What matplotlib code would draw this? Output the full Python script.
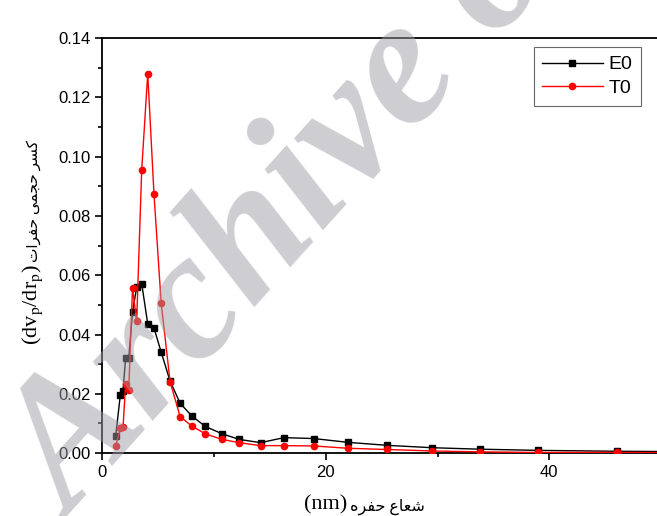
import numpy as np
import matplotlib
matplotlib.use("Agg")
import matplotlib.pyplot as plt
from matplotlib.ticker import MultipleLocator

# pore radius (nm) and volume fraction values
radius = [1.18, 1.6, 1.84, 2.07, 2.35, 2.69, 3.06, 3.51, 4.05, 4.61, 5.25, 6.05, 6.95,
          8.0, 9.2, 10.7, 12.25, 14.15, 16.25, 18.9, 22.0, 25.5, 29.5, 33.8, 39.0, 46.1, 55.0]
e0 = [0.0057, 0.0197, 0.0211, 0.032, 0.032, 0.0477, 0.0559, 0.0572, 0.0436, 0.0422, 0.0341,
      0.0243, 0.0168, 0.0125, 0.009, 0.0065, 0.0046, 0.0035, 0.0052, 0.0049, 0.0036, 0.0026,
      0.0018, 0.0013, 0.0009, 0.0006, 0.0004]
t0 = [0.0024, 0.0083, 0.0087, 0.0233, 0.0214, 0.0556, 0.0445, 0.0955, 0.128, 0.0874, 0.0508,
      0.0241, 0.0123, 0.0091, 0.0065, 0.0046, 0.0035, 0.0025, 0.0025, 0.0024, 0.0016, 0.0012,
      0.0007, 0.0004, 0.0002, 0.0002, 0.0001]
series = ["E0", "T0"]

# Persian labels, shaped by hand with presentation forms (visual order)
w_kasr = "\uFEAE\uFEB4\uFB90"
w_hajmi = "\uFEF0\uFEE4\uFEA0\uFEA3"
w_hofarat = "\uFE95\uFE8D\uFEAE\uFED4\uFEA3"
w_shoa = "\uFEC9\uFE8E\uFECC\uFEB7"
w_hofre = "\uFEE9\uFEAE\uFED4\uFEA3"

fam = ["Liberation Serif", "DejaVu Sans"]
plt.rcParams["font.family"] = ["Liberation Sans", "DejaVu Sans"]
plt.rcParams["mathtext.fontset"] = "stix"

fig = plt.figure(figsize=(6.57, 5.16), dpi=100)
ax = fig.add_axes([0.156, 0.122, 1.02, 0.804])

ax.plot(radius, e0, "k-s", lw=1, ms=4, label=series[0], zorder=3)
ax.plot(radius, t0, "-o", color="red", lw=1, ms=4.5, label=series[1], zorder=4)

ax.set_xlim(0, 60)
ax.set_ylim(0, 0.14)
ax.xaxis.set_major_locator(MultipleLocator(20))
ax.xaxis.set_minor_locator(MultipleLocator(10))
ax.yaxis.set_major_locator(MultipleLocator(0.02))
ax.yaxis.set_minor_locator(MultipleLocator(0.01))
ax.yaxis.set_major_formatter(plt.FormatStrFormatter("%.2f"))
ax.tick_params(which="major", direction="out", length=5, width=1.2, labelsize=12)
ax.tick_params(which="minor", direction="out", length=3, width=1.2)
for s in ax.spines.values():
    s.set_linewidth(1.3)

# axis labels
fig.text(350/657, 1-507/516, w_hofre + " " + w_shoa, ha="left", va="center",
         fontsize=11.5, family=fam)
fig.text(347/657, 1-505/516, "(nm)", ha="right", va="center", fontsize=16, family=fam)
fig.text(33/657, 1-304/516, r"(dv$_\mathrm{p}$/dr$_\mathrm{p}$)", rotation=90,
         ha="center", va="center", fontsize=16, family=fam)
fig.text(34/657, 1-201/516, w_hofarat + " " + w_hajmi + " " + w_kasr, rotation=90,
         ha="center", va="center", fontsize=11, family=fam)

leg = ax.legend(loc="upper right", bbox_to_anchor=(641/657, 1-47/516),
                bbox_transform=fig.transFigure, fontsize=14, frameon=True,
                fancybox=False, edgecolor="#444444", handlelength=3.1,
                borderpad=0.45, labelspacing=0.3, handletextpad=0.3, borderaxespad=0)
leg.get_frame().set_linewidth(0.8)

# watermark
fig.text(0.11, -0.01, "Archive of SID", rotation=48, rotation_mode="anchor",
         fontsize=132, family="Liberation Serif", weight="bold", style="italic",
         color=(0.62, 0.62, 0.65), alpha=0.5, ha="left", va="baseline", zorder=10)

fig.savefig("out.png", dpi=100)
